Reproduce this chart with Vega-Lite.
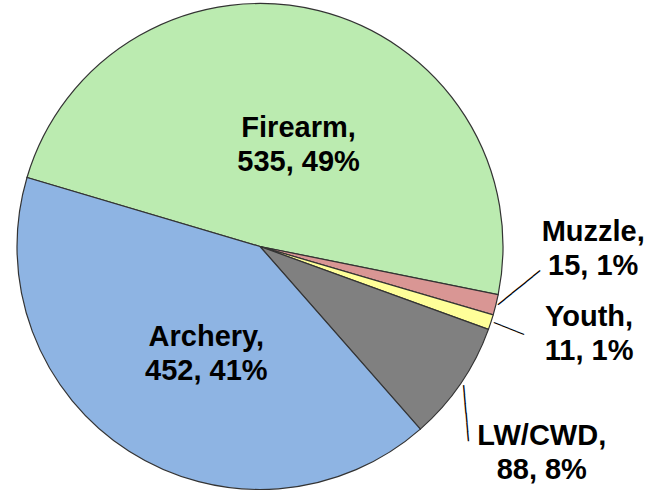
{
  "$schema": "https://vega.github.io/schema/vega-lite/v6.json",
  "autosize": {"type": "none"},
  "width": 520,
  "height": 493,
  "padding": {"left": 0, "top": 0, "right": 130, "bottom": 0},
  "background": "#ffffff",
  "view": {"stroke": null},
  "data": {
    "values": [
      {"cat": "Firearm", "value": 535, "idx": 1, "label": "Firearm,\n535, 49%"},
      {"cat": "Muzzle", "value": 15, "idx": 2, "label": "Muzzle,\n15, 1%"},
      {"cat": "Youth", "value": 11, "idx": 3, "label": "Youth,\n11, 1%"},
      {"cat": "LW/CWD", "value": 88, "idx": 4, "label": "LW/CWD,\n88, 8%"},
      {"cat": "Archery", "value": 452, "idx": 5, "label": "Archery,\n452, 41%"}
    ]
  },
  "encoding": {
    "theta": {"field": "value", "type": "quantitative", "stack": true, "scale": {"range": [-1.2828, 5.0004]}},
    "order": {"field": "idx", "type": "quantitative"}
  },
  "layer": [
    {
      "mark": {"type": "arc", "outerRadius": 243, "stroke": "#333333", "strokeWidth": 1.2},
      "encoding": {
        "color": {
          "field": "cat", "type": "nominal", "legend": null,
          "scale": {
            "domain": ["Firearm", "Muzzle", "Youth", "LW/CWD", "Archery"],
            "range": ["#bbebb0", "#d99694", "#ffff99", "#808080", "#8eb4e3"]
          }
        }
      }
    },
    {
      "mark": {"type": "text", "radius": 110, "dx": 12, "dy": -12, "font": "Liberation Sans", "fontWeight": "bold", "fontSize": 29, "lineBreak": "\n", "lineHeight": 34, "align": "center", "baseline": "middle", "color": "#000000"},
      "encoding": {"text": {"condition": {"test": "datum.cat === 'Firearm'", "field": "label"}, "value": ""}}
    },
    {
      "mark": {"type": "text", "radius": 120, "dx": 11, "dy": -11, "font": "Liberation Sans", "fontWeight": "bold", "fontSize": 29, "lineBreak": "\n", "lineHeight": 34, "align": "center", "baseline": "middle", "color": "#000000"},
      "encoding": {"text": {"condition": {"test": "datum.cat === 'Archery'", "field": "label"}, "value": ""}}
    },
    {
      "mark": {"type": "text", "radius": 300, "dx": 42, "dy": -86, "font": "Liberation Sans", "fontWeight": "bold", "fontSize": 29, "lineBreak": "\n", "lineHeight": 34, "align": "center", "baseline": "middle", "color": "#000000"},
      "encoding": {"text": {"condition": {"test": "datum.cat === 'Muzzle'", "field": "label"}, "value": ""}}
    },
    {
      "mark": {"type": "text", "radius": 300, "dx": 44, "dy": -23, "font": "Liberation Sans", "fontWeight": "bold", "fontSize": 29, "lineBreak": "\n", "lineHeight": 34, "align": "center", "baseline": "middle", "color": "#000000"},
      "encoding": {"text": {"condition": {"test": "datum.cat === 'Youth'", "field": "label"}, "value": ""}}
    },
    {
      "mark": {"type": "text", "radius": 300, "dx": 34, "dy": 20, "font": "Liberation Sans", "fontWeight": "bold", "fontSize": 29, "lineBreak": "\n", "lineHeight": 34, "align": "center", "baseline": "middle", "color": "#000000"},
      "encoding": {"text": {"condition": {"test": "datum.cat === 'LW/CWD'", "field": "label"}, "value": ""}}
    },
    {
      "mark": {"type": "text", "radius": 246, "angle": -39, "font": "DejaVu Sans Mono", "fontSize": 14.95, "align": "left", "baseline": "middle", "color": "#000000"},
      "encoding": {"text": {"condition": {"test": "datum.cat === 'Muzzle'", "value": "──────"}, "value": ""}}
    },
    {
      "mark": {"type": "text", "radius": 246, "angle": 21.8, "font": "DejaVu Sans Mono", "fontSize": 13.4, "align": "left", "baseline": "middle", "color": "#000000"},
      "encoding": {"text": {"condition": {"test": "datum.cat === 'Youth'", "value": "────"}, "value": ""}}
    },
    {
      "mark": {"type": "text", "radius": 246, "angle": 84.9, "font": "DejaVu Sans Mono", "fontSize": 15.56, "align": "left", "baseline": "middle", "color": "#000000"},
      "encoding": {"text": {"condition": {"test": "datum.cat === 'LW/CWD'", "value": "──────"}, "value": ""}}
    }
  ]
}
